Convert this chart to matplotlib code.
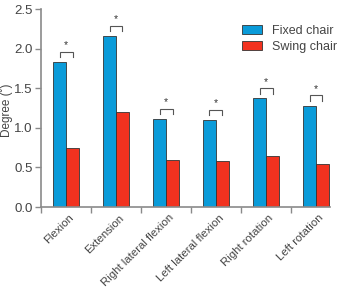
import matplotlib
matplotlib.use("Agg")
import matplotlib.pyplot as plt
import numpy as np

plt.rcParams["font.family"] = ["Liberation Sans", "DejaVu Sans"]

categories = ["Flexion", "Extension", "Right lateral flexion", "Left lateral flexion",
              "Right rotation", "Left rotation"]
fixed = [1.83, 2.16, 1.11, 1.10, 1.37, 1.28]
swing = [0.75, 1.20, 0.59, 0.58, 0.65, 0.54]
yticks = [0.0, 0.5, 1.0, 1.5, 2.0, 2.5]

blue = "#0a9bd9"
red = "#f2321f"
gray = "#8a8a8a"
txt = "#444444"

fig = plt.figure(figsize=(3.4, 2.87), dpi=100)
ax = fig.add_axes([41/340, 1-207/287, (330-41)/340, (207-9)/287])

x = np.arange(len(categories))
w = 0.26
ax.bar(x - w/2, fixed, width=w, color=blue, edgecolor="#333333", linewidth=0.6, label="Fixed chair")
ax.bar(x + w/2, swing, width=w, color=red, edgecolor="#333333", linewidth=0.6, label="Swing chair")

for xi, v in zip(x, fixed):
    y0 = v + 0.06
    y1 = v + 0.13
    ax.plot([xi - w/2, xi - w/2, xi + w/2, xi + w/2], [y0, y1, y1, y0],
            color="#555555", lw=0.8, solid_joinstyle="miter")
    ax.text(xi, y1 + 0.02, "*", ha="center", va="bottom", fontsize=7.5, color="#333333")

ax.set_xlim(-0.5, 5.28)
ax.set_ylim(0, 2.5)
ax.set_yticks(yticks)
ax.set_yticklabels([f"{t:.1f}" for t in yticks], fontsize=9.5, color=txt)
ax.set_xticks(x + 0.05)
ax.set_xticklabels(categories, rotation=45, ha="right", rotation_mode="anchor",
                   fontsize=8.2, color=txt)
ax.tick_params(axis="x", length=0, pad=4)
ax.set_xticks(np.arange(-0.5, 5.0, 1.0), minor=True)
ax.tick_params(axis="x", which="minor", length=4, width=1.0, color=gray, direction="out")
ax.tick_params(axis="y", length=4, width=1.0, color=gray, direction="out", pad=2)

for s in ["top", "right"]:
    ax.spines[s].set_visible(False)
for s in ["left", "bottom"]:
    ax.spines[s].set_color(gray)
    ax.spines[s].set_linewidth(1.2)

ax.set_ylabel("Degree (˚)", fontsize=8.5, color=txt)
ax.yaxis.set_label_coords(-28/289, 0.49)

ax.legend(loc="upper left", bbox_to_anchor=(0.655, 0.975), frameon=False, fontsize=9,
          handlelength=1.6, handleheight=0.75, handletextpad=0.8, labelspacing=0.3,
          labelcolor=txt)

fig.savefig("out.png", dpi=100)
